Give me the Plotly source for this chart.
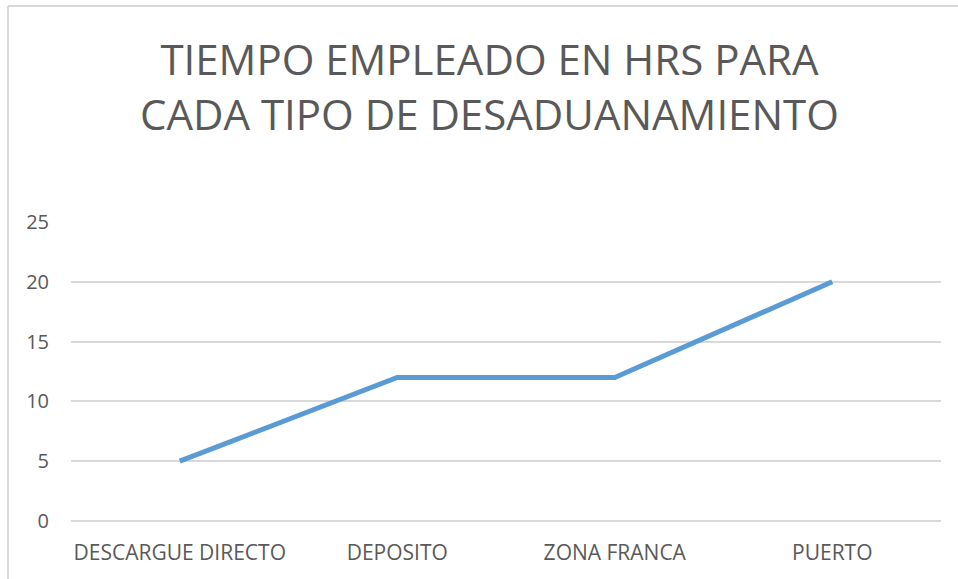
import plotly.graph_objects as go

categories = ["DESCARGUE DIRECTO", "DEPOSITO", "ZONA FRANCA", "PUERTO"]
hours = [5, 12, 12, 20]
y_ticks = [0, 5, 10, 15, 20, 25]
title_text = "TIEMPO EMPLEADO EN HRS PARA<br>CADA TIPO DE DESADUANAMIENTO"

fig = go.Figure()
fig.add_trace(go.Scatter(
    x=categories, y=hours, mode="lines",
    line=dict(color="#5B9BD5", width=5),
    hoverinfo="x+y", showlegend=False,
))

fig.update_layout(
    width=958, height=579,
    margin=dict(l=71, r=17, t=222, b=58, autoexpand=False),
    paper_bgcolor="white", plot_bgcolor="white",
    xaxis=dict(
        type="category", range=[-0.5, len(categories) - 0.5],
        showgrid=False, showline=False, zeroline=False,
        ticks="", ticklabelstandoff=17,
        tickfont=dict(family="Open Sans", size=21, color="#595959"),
    ),
    yaxis=dict(
        range=[0, 25], tickvals=y_ticks, showgrid=True, gridcolor="#D9D9D9",
        gridwidth=1.5, zeroline=True, zerolinecolor="#D9D9D9", zerolinewidth=1.5,
        showline=False, ticks="", ticklabelstandoff=21,
        tickfont=dict(family="Open Sans", size=20, color="#595959"),
    ),
    annotations=[dict(
        text=title_text, xref="paper", yref="paper",
        x=(489 - 71) / 870, y=(521 - 86) / 299, xanchor="center", yanchor="middle",
        showarrow=False, align="center",
        font=dict(family="Open Sans", size=42, color="#595959"),
    )],
    shapes=[
        dict(type="line", xref="paper", yref="paper", x0=-63/870, x1=1.1, y0=1 + (222-6)/299, y1=1 + (222-6)/299,
             line=dict(color="#D9D9D9", width=2)),
        dict(type="line", xref="paper", yref="paper", x0=-63/870, x1=-63/870, y0=-0.3, y1=1 + (222-6)/299,
             line=dict(color="#D9D9D9", width=2)),
    ],
)

fig.write_html("out.html")
